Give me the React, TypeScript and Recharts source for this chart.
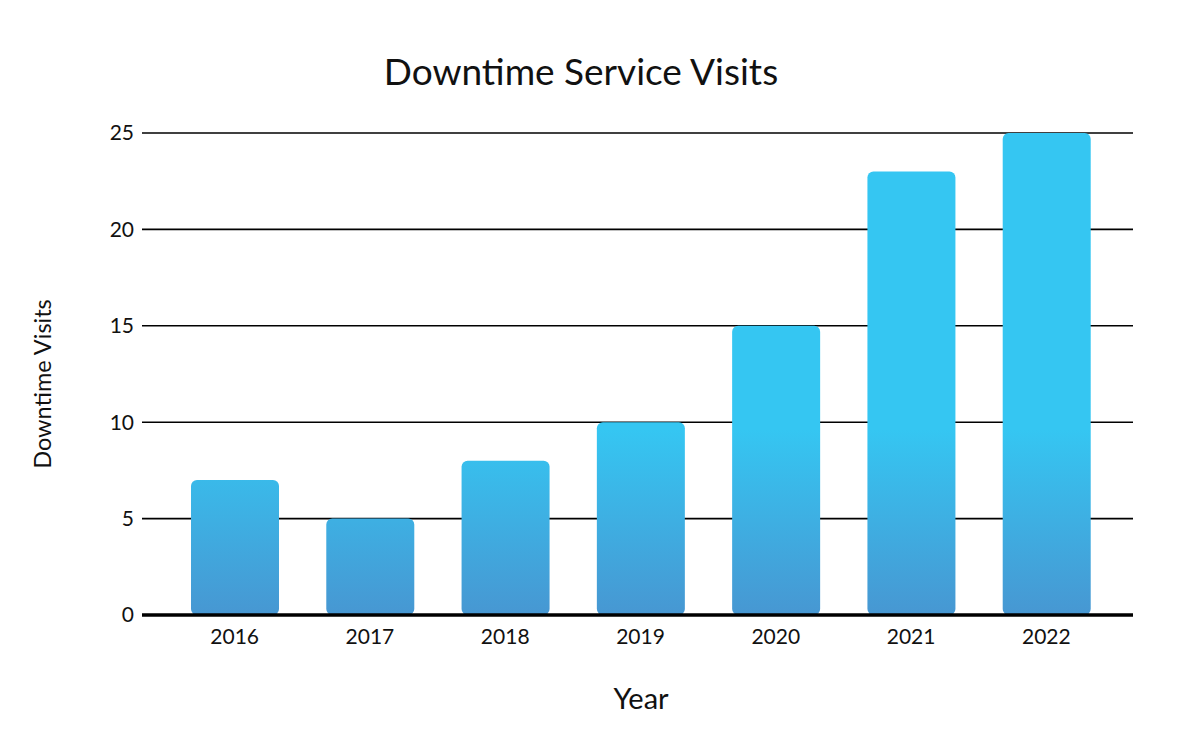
import { BarChart, Bar, XAxis, YAxis, CartesianGrid } from "recharts";

const years = ["2016", "2017", "2018", "2019", "2020", "2021", "2022"];
const visits = [7, 5, 8, 10, 15, 23, 25];
const yTicks = [0, 5, 10, 15, 20, 25];

const chartData = years.map((year, i) => ({ year, visits: visits[i] }));

const FONT = "Lato, 'Open Sans', sans-serif";

export default function App() {
  return (
    <div style={{ position: "absolute", left: 0, top: 0, width: 1200, height: 745, background: "#fff", fontFamily: FONT }}>
      <div style={{ position: "absolute", left: 0, width: 1162, top: 48, textAlign: "center", fontSize: 37, color: "#111" }}>
        Downtime Service Visits
      </div>
      <div style={{
        position: "absolute", left: 42, top: 384, transform: "translate(-50%, -50%) rotate(-90deg)",
        whiteSpace: "nowrap", fontSize: 23.5, color: "#111",
      }}>
        Downtime Visits
      </div>
      <div style={{ position: "absolute", left: 641, top: 697, transform: "translate(-50%, -50%)", fontSize: 29, color: "#111" }}>
        Year
      </div>
      <BarChart width={1200} height={745} data={chartData} margin={{ top: 133, right: 67, bottom: 90, left: 32 }}>
        <defs>
          <linearGradient id="barGrad" gradientUnits="userSpaceOnUse" x1="0" y1="430" x2="0" y2="615">
            <stop offset="0" stopColor="#35C6F2" />
            <stop offset="1" stopColor="#4797D2" />
          </linearGradient>
        </defs>
        <XAxis dataKey="year" height={40} padding={{ left: 25, right: 19 }}
          tickLine={false} tickMargin={8}
          axisLine={{ stroke: "#000", strokeWidth: 3.5 }}
          tick={{ fill: "#111", fontSize: 21, fontFamily: FONT }} />
        <YAxis width={110} domain={[0, 25]} ticks={yTicks} tickLine={false} axisLine={false}
          tick={{ fill: "#111", fontSize: 21, fontFamily: FONT }} />
        <Bar dataKey="visits" fill="url(#barGrad)" barSize={88} radius={6} isAnimationActive={false} />
        <CartesianGrid vertical={false} stroke="#000" strokeWidth={1.6} />
      </BarChart>
    </div>
  );
}
